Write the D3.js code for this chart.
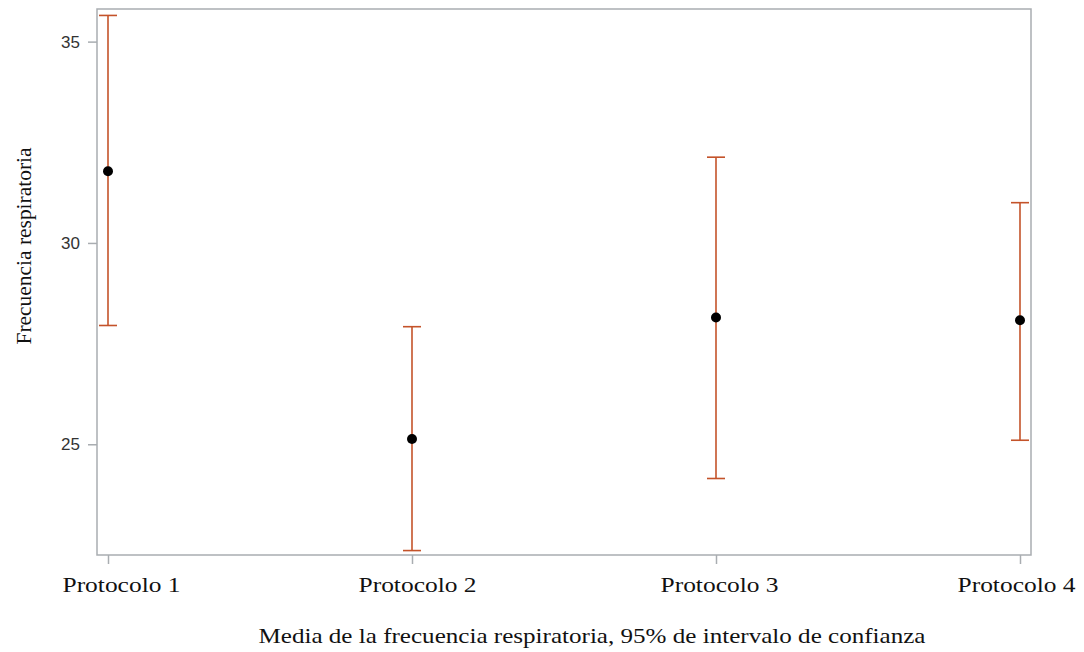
<!DOCTYPE html>
<html><head><meta charset="utf-8">
<script src="https://cdn.jsdelivr.net/npm/d3@7"></script>
<style>body{margin:0;background:#fff}</style>
</head><body>
<svg id="c" width="1084" height="652"></svg>
<script>
const categories = ["Protocolo 1","Protocolo 2","Protocolo 3","Protocolo 4"];
const means = [31.78, 25.13, 28.15, 28.08];
const lower = [27.95, 22.36, 24.15, 25.10];
const upper = [35.65, 27.92, 32.13, 31.00];
const yTicks = [25, 30, 35];

const svg = d3.select("#c");
const L = 97, R = 1031, T = 9, B = 555;
const serif = "Liberation Serif, Times New Roman, serif";
const x = d3.scalePoint().domain(categories).range([108, 1020]);
const y = d3.scaleLinear().domain([22.25, 35.81]).range([B, T]);

svg.append("rect").attr("x",L).attr("y",T).attr("width",R-L).attr("height",B-T)
  .attr("fill","none").attr("stroke","#a9adb1").attr("stroke-width",1.5);

const ya = svg.append("g").attr("transform",`translate(${L},0)`)
  .call(d3.axisLeft(y).tickValues(yTicks).tickSize(9).tickPadding(8).tickFormat(d3.format("d")));
ya.select(".domain").remove();
ya.selectAll("line").attr("stroke","#a9adb1").attr("stroke-width",1.5);
ya.selectAll("text").attr("font-family","Liberation Sans, Arial, sans-serif").attr("font-size",17).attr("fill","#333");

const xa = svg.append("g").attr("transform",`translate(0,${B})`)
  .call(d3.axisBottom(x).tickSize(9).tickPadding(0));
xa.select(".domain").remove();
xa.selectAll("line").attr("stroke","#a9adb1").attr("stroke-width",1.5);
const labelShift = [13, 5, 3, -4];
xa.selectAll("text")
  .attr("font-family",serif).attr("font-size",22).attr("fill","#111")
  .attr("dy",null).attr("y",37)
  .attr("dx",(d,i)=>labelShift[i])
  .attr("textLength",118).attr("lengthAdjust","spacingAndGlyphs");

const data = categories.map((c,i)=>({c, m:means[i], lo:lower[i], hi:upper[i]}));
const col = "#c4532a";
const g = svg.append("g");
g.selectAll(".v").data(data).join("line")
  .attr("x1",d=>x(d.c)).attr("x2",d=>x(d.c)).attr("y1",d=>y(d.lo)).attr("y2",d=>y(d.hi))
  .attr("stroke",col).attr("stroke-width",1.6);
["lo","hi"].forEach(k=>{
  g.selectAll(".c"+k).data(data).join("line")
    .attr("x1",d=>x(d.c)-9).attr("x2",d=>x(d.c)+9).attr("y1",d=>y(d[k])).attr("y2",d=>y(d[k]))
    .attr("stroke",col).attr("stroke-width",1.6);
});
g.selectAll("circle").data(data).join("circle")
  .attr("cx",d=>x(d.c)).attr("cy",d=>y(d.m)).attr("r",5).attr("fill","#000");

svg.append("text").attr("x",592).attr("y",643).attr("text-anchor","middle")
  .attr("font-family",serif).attr("font-size",22).attr("fill","#111")
  .attr("textLength",667).attr("lengthAdjust","spacingAndGlyphs")
  .text("Media de la frecuencia respiratoria, 95% de intervalo de confianza");
svg.append("text").attr("transform","translate(31,246) rotate(-90)").attr("text-anchor","middle")
  .attr("font-family",serif).attr("font-size",20).attr("fill","#111")
  .attr("textLength",197).attr("lengthAdjust","spacingAndGlyphs")
  .text("Frecuencia respiratoria");
</script>
</body></html>
